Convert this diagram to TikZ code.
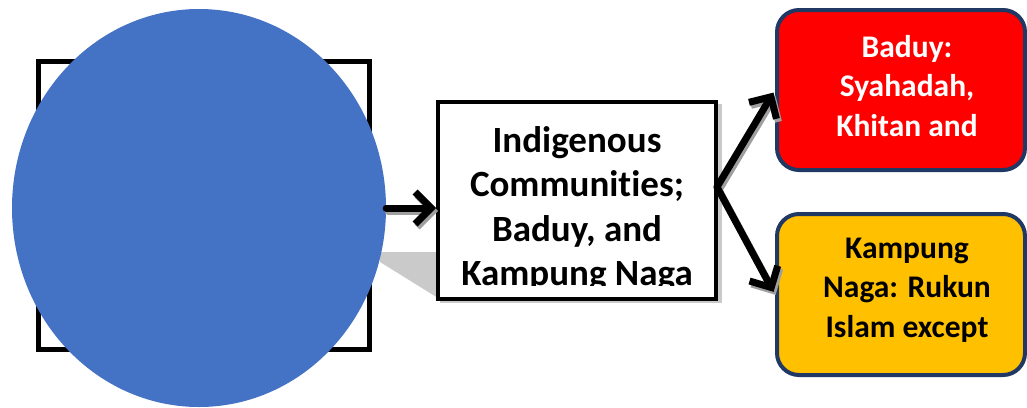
\documentclass[tikz,border=0pt]{standalone}
\usepackage{fontspec}
\setmainfont{Carlito}[Ligatures=NoCommon]
\usetikzlibrary{shapes.geometric,arrows.meta}
\definecolor{circblue}{HTML}{4472C4}
\definecolor{boxred}{HTML}{FF0000}
\definecolor{boxyellow}{HTML}{FFC000}
\definecolor{boxedge}{HTML}{203864}
\definecolor{shadowgray}{HTML}{CACACA}

\begin{document}
\begin{tikzpicture}[
    x=1pt, y=-1pt,
    frame/.style={rectangle, draw=black, line width=5pt, minimum width=331pt, minimum height=288pt, inner sep=0pt},
    circ/.style={ellipse, fill=circblue, minimum width=374pt, minimum height=398pt, inner sep=0pt},
    midbox/.style={rectangle, draw=black, fill=white, line width=4pt, minimum width=278pt, minimum height=197pt, inner sep=0pt},
    sidebox/.style={rectangle, rounded corners=22pt, draw=boxedge, line width=4pt, minimum width=248pt, minimum height=160pt, inner sep=0pt},
    midtext/.style={font=\bfseries\fontsize{37}{44.5}\selectfont, align=center, inner sep=0pt},
    sidetext/.style={font=\bfseries\fontsize{31.5}{39.5}\selectfont, align=center, inner sep=0pt},
    arrow/.style={-{Straight Barb[length=16pt,width=32pt]}, line width=7pt, line cap=round, line join=round},
    shadow/.style={arrow, draw=gray!75, transform canvas={shift={(2pt,-3pt)}}}
]
\useasboundingbox (0,0) rectangle (1027,407);

% Left part
\node[frame] (frame) at (203.5,205) {};
\fill[shadowgray] (380,252) -- (438,252) -- (438,298) -- (380,262) -- cycle;
\node[circ] (circ) at (199,208) {};

% Middle box
\fill[shadowgray] (440,104) rectangle (722,303);
\node[midbox] (mid) at (577,200.5) {};
\begin{scope}
\clip (440,104) rectangle (714,285);
\node[midtext] (midlabel) at (577,209) {Indigenous\\Communities;\\Baduy, and\\Kampung Naga};
\end{scope}

% Right boxes
\node[sidebox, fill=boxred] (red) at (901,90) {};
\node[sidetext, text=white] (redlabel) at (907,86) {Baduy:\\Syahadah,\\Khitan and};
\node[sidebox, fill=boxyellow, minimum height=161pt] (yel) at (901,294.5) {};
\node[sidetext] (yellabel) at (907,290) {Kampung\\Naga: Rukun\\Islam except};

% Arrows
\coordinate (fork) at (717,187);
\draw[shadow] (circ.east) -- (circ.east -| mid.west);
\draw[shadow, shorten >=3pt] (fork) -- (red.west);
\draw[shadow, shorten >=3pt] (fork) -- (yel.west);
\draw[arrow] (circ.east) -- (circ.east -| mid.west);
\draw[arrow, shorten >=3pt] (fork) -- (red.west);
\draw[arrow, shorten >=3pt] (fork) -- (yel.west);

\end{tikzpicture}
\end{document}
